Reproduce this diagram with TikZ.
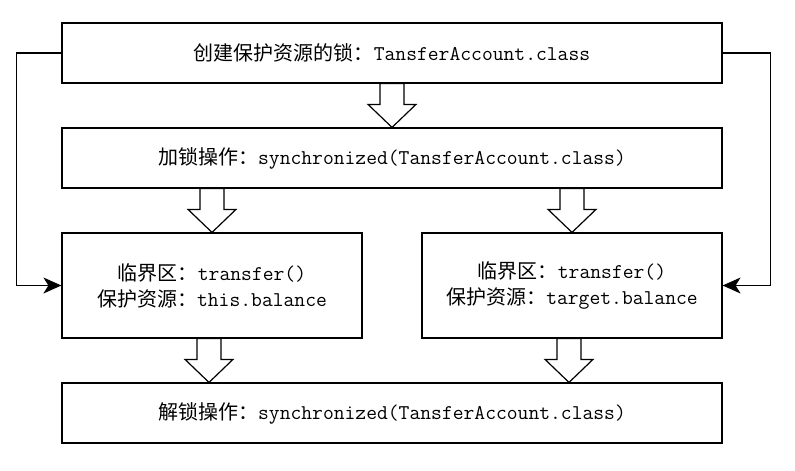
\documentclass[tikz,border=0pt]{standalone}
\usepackage{fontspec}
\newfontfamily\cjk{Noto Sans CJK SC}
\usetikzlibrary{calc,arrows.meta}

\begin{document}
\begin{tikzpicture}[x=1pt,y=-1pt,line width=1.2pt,
  box/.style={draw,inner sep=0pt,align=center,font=\fontsize{20}{26}\selectfont},
  wide/.style={box,minimum width=660pt,minimum height=60pt},
  half/.style={box,minimum width=300pt,minimum height=105pt},
  tip/.style={-{Stealth[length=18pt,width=16pt,inset=5pt]}}]

  \newcommand\zh[1]{{\cjk #1}};
  \newcommand\tc[1]{{\fontsize{21}{26}\selectfont\ttfamily #1}};
  \newcommand\fat[2]{%
    \draw[fill=white] ($(#1)+(-12,0)$) -- ($(#1)+(12,0)$) -- ($(#2)+(12,-23)$)
    -- ($(#2)+(24,-23)$) -- (#2) -- ($(#2)+(-24,-23)$) -- ($(#2)+(-12,-23)$) -- cycle;};

  \useasboundingbox (0,0) rectangle (795,471);

  \node[wide] (b1) at (392,53) {\zh{创建保护资源的锁：}\tc{TansferAccount.class}};
  \node[wide] (b2) at (392,158) {\zh{加锁操作：}\tc{synchronized(TansferAccount.class)}};
  \node[half] (b3) at (212,285.5) {\zh{临界区：}\tc{transfer()}\\\zh{保护资源：}\tc{this.balance}};
  \node[half] (b4) at (572,285.5) {\zh{临界区：}\tc{transfer()}\\\zh{保护资源：}\tc{target.balance}};
  \node[wide] (b5) at (392,413) {\zh{解锁操作：}\tc{synchronized(TansferAccount.class)}};

  %% block arrows
  \coordinate (s2) at (b2.south -| b3.north);
  \coordinate (r2) at (b2.south -| b4.north);
  \coordinate (s3) at ([xshift=-3pt]b3.south);
  \coordinate (t3) at (s3 |- b5.north);
  \coordinate (s4) at ([xshift=-3pt]b4.south);
  \coordinate (t4) at (s4 |- b5.north);
  \fat{b1.south}{b2.north}
  \fat{s2}{b3.north}
  \fat{r2}{b4.north}
  \fat{s3}{t3}
  \fat{s4}{t4}

  %% side lines
  \draw[tip] (b1.west) -- ++(-45,0) |- (b3.west);
  \draw[tip] (b1.east) -- ++(48,0) |- (b4.east);

\end{tikzpicture}
\end{document}
